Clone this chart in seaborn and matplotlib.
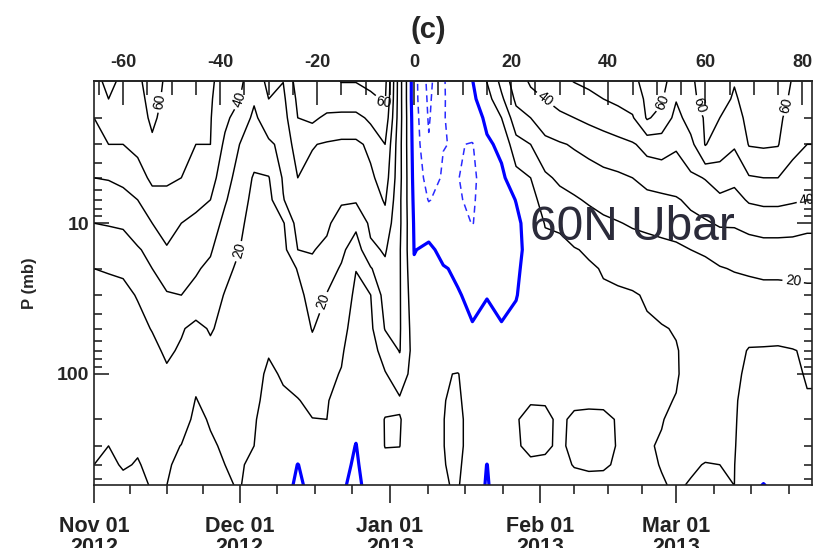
import numpy as np
import pandas as pd
import matplotlib
matplotlib.use("Agg")
import matplotlib.pyplot as plt
import seaborn as sns

# === data: zonal mean U at 60N (m/s) ===
# columns: days since 2012-11-01, every 3 days
days = list(range(0, 151, 3))
plev = [1, 1.5, 2, 3, 5, 7, 10, 15, 20, 30, 50, 70, 100, 150, 200, 300, 400, 550]

u_1 = [58, 64, 59, 58, 68, 58, 59, 55, 52, 46,
       43, 35, 44, 41, 56, 58, 59, 62, 62, 64,
       64, 24, -6, -24, -10.5, -6, 0.5, 12, 25, 38,
       42, 46, 50, 52, 53, 54, 57, 58, 66, 64,
       56, 58, 68, 66, 61, 65, 66, 66, 60, 58, 58]
u_1p5 = [54, 60, 56, 56, 64, 57, 56, 53, 51, 44,
         40, 31, 40, 38, 52, 56, 55, 56, 56, 58,
         61, 24, -6, -22, -10.5, -7, -2, 6, 18, 32,
         38, 40, 43, 46, 48, 50, 52, 54, 62, 61,
         50.5, 57, 64, 63, 59, 63, 64, 64, 58, 56, 56]
u_2 = [50, 56, 54, 55, 62, 56, 55, 52, 50.5, 42,
       36, 28, 36, 36, 50, 52, 48, 47, 47, 52,
       57, 24, -5, -21, -10.3, -8, -5, 2, 10, 26,
       30, 35, 38, 40, 42, 44, 46, 49, 61, 57,
       47, 54, 61, 60, 57, 62, 63, 62, 56, 54, 54]
u_3 = [46, 50, 50, 52, 58, 54, 53, 50, 50, 38,
       30, 24, 28, 33, 45, 40.5, 39, 38, 38, 42,
       50, 23, -4, -19, -10.2, -9.5, -10.5, -1.5, 2, 16,
       20, 27, 29, 31, 33, 35, 37, 39, 43, 44,
       41, 47, 60.5, 55, 51, 60.5, 61, 60.5, 52, 50, 50]
u_5 = [40, 40.5, 42, 46, 52, 51, 50, 46, 44, 34,
       26, 19, 19.5, 31, 40, 37, 36, 34, 34, 38,
       45, 23, -3, -14, -9, -9.8, -12, -5, -2, 6,
       10, 18, 22, 23, 25, 27, 28, 30, 33, 34,
       35, 38, 40.5, 44, 42, 49, 50, 50, 47, 46, 46]
u_7 = [35, 35.5, 37, 40, 46, 48, 45, 42, 40, 31,
       24, 17.5, 17, 29.5, 37, 35, 34, 31, 31, 35,
       41, 22, -2, -10.5, -7, -9.5, -11, -6, -3, 0.2,
       7, 13.5, 16, 19, 21, 23, 24, 25, 27, 28,
       29, 32, 34, 38, 37, 41, 42, 42, 41, 40, 40]
u_10 = [30, 30.5, 31, 35, 40, 44, 40, 38, 36, 27,
        22, 16, 15.5, 19, 34, 33, 31.5, 26, 22, 32,
        36, 22, -1, -3, -5, -7, -10.3, -6, -3.5, -1.5,
        3, 10.5, 11, 14, 16, 18, 19.5, 21, 22, 23,
        24, 27, 29, 31, 31, 33, 34, 34, 33.5, 32, 32]
u_15 = [25, 25, 26, 29, 33, 39, 35, 34, 31, 24,
        20, 15, 14, 17, 30, 30.5, 28, 22, 15, 28,
        31, 21, -0.3, 1.5, -2, -3, -4, -4, -3, -1.5,
        2, 7, 8, 9.5, 11, 13, 14, 15, 16, 17,
        18, 20, 21, 23, 24, 25, 26, 26, 26, 26, 26]
u_20 = [20, 20.5, 21, 25, 30, 35, 32, 31, 28, 22,
        18.5, 14, 13, 15, 20.5, 28, 24, 19, 10.2, 19,
        28, 21, 1, 2, 0.5, -1, -2.5, -2, -2.5, -1,
        2.5, 5, 6.5, 8, 9, 10.5, 11.5, 12, 13, 14,
        15, 17, 18, 19.5, 20.5, 21, 21.5, 21.5, 21.5, 22, 22]
u_30 = [17, 17.5, 18, 20.5, 24, 29, 30, 27, 24, 19.5,
        16, 13, 12, 13.5, 17, 24, 19.5, 16, 8, 9.8,
        24, 21, 3, 4, 3, 0.5, -1.5, -0.2, -1.5, -0.3,
        3, 4.5, 6, 7, 8, 9, 9, 9.5, 10.5, 11,
        12, 13.5, 14, 15, 16, 17, 17.5, 17.5, 18, 18, 18]
u_50 = [15, 15, 15.5, 17, 20.5, 24, 21, 17, 21, 17,
        14, 12, 11, 12, 14, 20.5, 16, 13, 6, 8,
        20.5, 21, 5, 5, 5, 3, 0.5, 2, 0.5, 2,
        4, 5, 6.5, 7, 8, 8.5, 8.5, 9, 9.3, 9.8,
        10.2, 11.5, 12, 12.5, 12, 11, 12, 11.5, 12, 13, 13]
u_70 = [13.5, 13.5, 14, 15, 17, 22, 18.5, 14, 17.5, 15,
        13, 11.5, 10.2, 11, 12.5, 17, 14, 11, 5, 7,
        13, 20.5, 6, 6, 7, 5, 3, 4, 3, 4,
        5, 6, 7, 7.5, 8, 8.5, 8.5, 9, 9.2, 9.6,
        9.8, 11, 11.5, 11.8, 11, 9.8, 9.5, 9.5, 9.8, 10.5, 10.5]
u_100 = [12.5, 12.5, 13, 13.5, 14, 18, 16, 11, 14, 13,
         12, 11, 9.5, 10.3, 11.5, 13.5, 12, 9.5, 4, 6.5,
         9.5, 14, 7, 6, 9.5, 10.3, 6, 6, 5, 6,
         7, 8, 8, 8.5, 9, 9, 9, 9.3, 9.3, 9.6,
         9.8, 10.8, 11.3, 11.5, 10.5, 9.5, 9, 9, 9.5, 10.2, 10.2]
u_150 = [11.5, 11.5, 12, 12, 12.5, 14, 13, 9.8, 11.5, 12,
         11.5, 10.7, 9, 9.5, 9.8, 11, 10.5, 7, 3, 6,
         8, 9, 7, 6, 9.8, 11, 7, 7, 6.5, 8,
         9.8, 9.8, 9, 9.5, 9.5, 9.5, 9.5, 9.5, 9.5, 9.7,
         10.1, 10.8, 11, 11, 10.3, 9, 8.5, 8.5, 9, 9.8, 9.8]
u_200 = [11, 10.8, 11.5, 11, 11.5, 12, 11.5, 9.2, 10.3, 11,
         11, 10.3, 8.5, 9, 8, 9.9, 10, 5, 1.5, 5.5,
         10.3, 10.4, 6.5, 6, 9.9, 11.5, 7.5, 7, 7.5, 9.8,
         10.8, 10.6, 9.5, 10.5, 10.7, 10.6, 9.8, 9.7, 9.7, 9.9,
         10.5, 10.8, 11, 11, 10.3, 8.5, 8, 8, 8.5, 9.5, 9.5]
u_300 = [10.5, 10, 11, 10.3, 11, 11, 9.9, 8.5, 9.5, 10.5,
         10.7, 10, 8, 8.5, 6, 7, 8, 3, -0.2, 5,
         10.2, 10.1, 6, 6, 9.9, 11.5, 7.5, 5, 7.5, 9.7,
         10.6, 10.5, 9.5, 10.7, 11, 11, 9.8, 9.7, 9.8, 10.2,
         10.6, 10.6, 10.6, 10.6, 10.2, 8, 7, 7.5, 8, 9, 9]
u_400 = [10, 9.3, 10.3, 9.8, 10.7, 10.5, 9, 8, 9, 10,
         10.5, 9, 7.5, 7.5, -0.3, 5, 6, 2, -1, 4,
         8, 8, 5, 5, 9.8, 11, 7, -0.2, 7, 8.5,
         9.5, 9.3, 9, 10.2, 10.6, 10.5, 9.5, 9.5, 9.6, 10.1,
         10.5, 10.3, 9.9, 10, 10.1, 6, 4, 6, 7, 8, 8]
u_550 = [8.5, 8, 9, 9, 10.3, 10, 8, 7.5, 8.5, 9.5,
         10.3, 8, 7, 4, -2, 3, 4, 1, -2, 3,
         5, 5, 4, 4, 9.6, 10.5, 6, -1, 6, 7,
         8, 8, 8, 8.5, 8.5, 8.5, 8.5, 9, 9.5, 9.8,
         10.3, 9.8, 9.2, 9.3, 10, 3, -0.5, 3, 5, 6, 6]

rows = [u_1, u_1p5, u_2, u_3, u_5, u_7, u_10, u_15, u_20, u_30,
        u_50, u_70, u_100, u_150, u_200, u_300, u_400, u_550]
ubar = pd.DataFrame(rows, index=plev, columns=days)

# calendar axis
month_start = [0, 30, 61, 92, 120, 151]
month_labels = ["Nov 01\n2012", "Dec 01\n2012", "Jan 01\n2013", "Feb 01\n2013", "Mar 01\n2013"]
day0 = 66  # 2013-01-06, origin of the top axis
top_ticks = [-60, -40, -20, 0, 20, 40, 60, 80]

# === plot ===
sns.set_theme(style="ticks")
plt.rcParams['font.family'] = ['Liberation Sans', 'DejaVu Sans']

fig = plt.figure(figsize=(8.27, 5.48), dpi=100)
ax = fig.add_axes([94 / 827, 1 - 485 / 548, 718 / 827, 404 / 548])

X, Y = np.meshgrid(ubar.columns.values, ubar.index.values)
Z = ubar.values

cs_plain = ax.contour(X, Y, Z, levels=[10, 30, 50, 70, 80, 90], colors='black', linewidths=1.05)
cs_lab = ax.contour(X, Y, Z, levels=[20, 40, 60], colors='black', linewidths=1.05)
cs_zero = ax.contour(X, Y, Z, levels=[0], colors='#0000ff', linewidths=2.3)
cs_neg = ax.contour(X, Y, Z, levels=[-40, -30, -20, -10], colors='#2a2aff',
                    linewidths=1.1, linestyles=[(0, (4.5, 3))])

ax.set_yscale('log')
ax.set_ylim(545, 1.14)
ax.set_xlim(0, 148)

# bottom axis: month starts, quarter-month minor ticks
ax.set_xticks(month_start[:-1])
ax.set_xticklabels(month_labels, fontsize=15.5, fontweight='bold', linespacing=1.0)
minor = []
for a, b in zip(month_start[:-1], month_start[1:]):
    minor += [a + k * (b - a) / 4 for k in (1, 2, 3)]
ax.set_xticks(minor, minor=True)
ax.tick_params(axis='x', which='major', direction='out', length=13, width=1.2,
               top=False, pad=9, colors='#222222')
ax.tick_params(axis='x', which='minor', direction='out', length=6.5, width=1.2, top=False)

# pressure axis
ax.set_yticks([10, 100])
ax.set_yticklabels(["10", "100"], fontsize=14, fontweight='bold')
ymin = [v * 10.0 ** e for e in (0, 1, 2) for v in range(2, 10) if v * 10.0 ** e < 545]
ax.set_yticks(ymin, minor=True)
ax.yaxis.set_minor_formatter(matplotlib.ticker.NullFormatter())
ax.tick_params(axis='y', which='major', direction='in', length=11, width=1.2, right=True)
ax.tick_params(axis='y', which='minor', direction='in', length=6, width=1.2, right=True)
ax.set_ylabel("P (mb)", fontsize=12, fontweight='bold', labelpad=14)

# top axis: days relative to the warming
top = ax.secondary_xaxis('top', functions=(lambda d: d - day0, lambda t: t + day0))
top.set_xticks(top_ticks)
top.set_xticklabels([str(t) for t in top_ticks], fontsize=13, fontweight='bold')
top.set_xticks(np.arange(-65, 85, 5), minor=True)
top.tick_params(axis='x', which='major', direction='in', length=17, width=1.2, pad=7)
top.tick_params(axis='x', which='minor', direction='in', length=10, width=1.2)

for sp in ax.spines.values():
    sp.set_linewidth(1.2)
    sp.set_color('#222222')
top.spines['top'].set_linewidth(1.2)

# contour labels
lab_pos = [(13, 1.55), (30.8, 1.55), (29.5, 15), (47, 33), (59.6, 1.6), (93, 1.5),
           (116.5, 1.55), (127, 1.55), (139.5, 1.55), (147, 6.5), (144, 26)]
ax.clabel(cs_lab, manual=lab_pos, fmt='%d', fontsize=10, inline=True, inline_spacing=3)

fig.text(428 / 827, 1 - 30 / 548, "(c)", fontsize=21, fontweight='bold', ha='center', va='center')
fig.text(530 / 827, 1 - 240 / 548, "60N Ubar", fontsize=34.5, color='#2b2b3a',
         family='Liberation Sans', va='baseline')

fig.savefig("out.png", dpi=100)
